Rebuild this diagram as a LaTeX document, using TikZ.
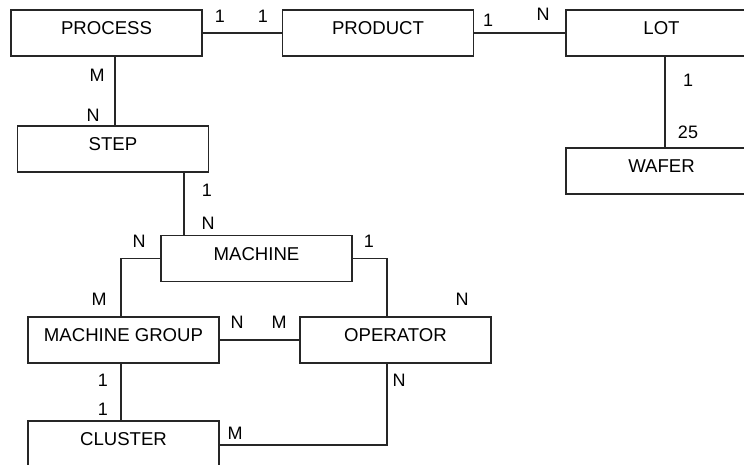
\documentclass[tikz,border=0pt]{standalone}
\usepackage{fontspec}
\setmainfont{Liberation Sans}
\usetikzlibrary{calc}
\begin{document}
\begin{tikzpicture}[x=1pt,y=-1pt,
  entity/.style={draw=black!85, line width=1.1pt, rectangle, minimum width=191pt, minimum height=46pt,
    inner sep=0pt, font=\fontsize{18.6}{20}\selectfont, text height=13.3pt, text depth=10pt},
  card/.style={inner sep=0pt, font=\fontsize{18}{20}\selectfont, text height=12.9pt, text depth=0pt},
  link/.style={draw=black!85, line width=1.1pt}]
\useasboundingbox (0,0) rectangle (744,465);
\fill[white] (0,0) rectangle (744,465);
% entities
\node[entity] (PROCESS) at (106.5,33) {PROCESS};
\node[entity] (PRODUCT) at (378,33) {PRODUCT};
\node[entity] (LOT) at (661.5,33) {LOT};
\node[entity] (WAFER) at (661.5,171) {WAFER};
\node[entity] (STEP) at (113,149) {STEP};
\node[entity] (MACHINE) at (256.5,258.5) {MACHINE};
\node[entity] (MG) at (123.5,340) {MACHINE GROUP};
\node[entity] (OPERATOR) at (395.5,340) {OPERATOR};
\node[entity] (CLUSTER) at (123.5,444) {CLUSTER};
% connectors
\draw[link] (PROCESS.east) -- (PRODUCT.west);
\draw[link] (PRODUCT.east) -- (LOT.west);
\draw[link] ([xshift=3.5pt]LOT.south) -- ([xshift=3.5pt]WAFER.north);
\draw[link] ([xshift=8.5pt]PROCESS.south) -- ([xshift=2pt]STEP.north);
\draw[link] ([xshift=71pt]STEP.south) -- ([xshift=-72.5pt]MACHINE.north);
\draw[link] (MACHINE.west) -| ([xshift=-2.5pt]MG.north);
\draw[link] (MG.east) -- (OPERATOR.west);
\draw[link] (MACHINE.east) -| ([xshift=-8.5pt]OPERATOR.north);
\draw[link] ([xshift=-2.5pt]MG.south) -- ([xshift=-2.5pt]CLUSTER.north);
\draw[link] ([yshift=-1pt]CLUSTER.east) -| ([xshift=-8.5pt]OPERATOR.south);
% cardinalities
\node[card] (c1) at (220,16) {1};
\node[card] (c2) at (263,16) {1};
\node[card] (c3) at (488,20) {1};
\node[card] (c4) at (543,14) {N};
\node[card] (c5) at (688,80) {1};
\node[card] (c6) at (688,132) {25};
\node[card] (c7) at (97,75) {M};
\node[card] (c8) at (93,115) {N};
\node[card] (c9) at (207,190) {1};
\node[card] (c10) at (208,223) {N};
\node[card] (c11) at (139,241) {N};
\node[card] (c12) at (369,241) {1};
\node[card] (c13) at (99,299) {M};
\node[card] (c14) at (462,299) {N};
\node[card] (c15) at (237,322) {N};
\node[card] (c16) at (279,322) {M};
\node[card] (c17) at (103,380) {1};
\node[card] (c18) at (103,409) {1};
\node[card] (c19) at (399,380) {N};
\node[card] (c20) at (235,433) {M};
\end{tikzpicture}
\end{document}
